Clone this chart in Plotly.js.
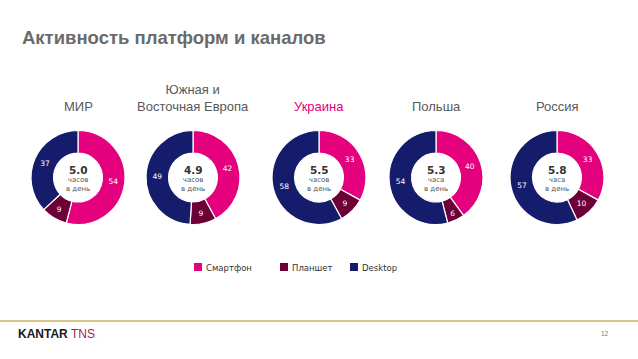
<!DOCTYPE html>
<html>
<head>
<meta charset="utf-8">
<script src="https://cdn.plot.ly/plotly-3.0.1.min.js"></script>
<style>
html,body{margin:0;padding:0;background:#fff;}
#chart{width:638px;height:359px;}
</style>
</head>
<body>
<div id="chart"></div>
<script>
// ---- Data ----
const regions = ["МИР", "Южная и<br>Восточная Европа", "Украина", "Польша", "Россия"];
const platforms = ["Смартфон", "Планшет", "Desktop"];
const smartphone = [54, 42, 33, 40, 33];
const tablet = [9, 9, 9, 6, 10];
const desktop = [37, 49, 58, 54, 57];
const hoursPerDay = ["5.0", "4.9", "5.5", "5.3", "5.8"];
const hourUnit = ["часов", "часов", "часов", "часа", "часа"];

// ---- Layout helpers ----
const W = 638, H = 359;
const centersX = [78, 193, 319, 436, 557];
const centerY = 177.5;
const radius = 47;
const colors = ["#E5007D", "#6E0038", "#161C6C"];
const legendX = [194, 280, 350];

const traces = regions.map((r, i) => {
  const cx = centersX[i];
  return {
    type: "pie",
    values: [smartphone[i], tablet[i], desktop[i]],
    labels: platforms,
    sort: false,
    direction: "clockwise",
    rotation: 0,
    hole: 0.52,
    marker: {colors: colors, line: {color: "#ffffff", width: 1.2}},
    textinfo: "value",
    textposition: "inside",
    insidetextorientation: "horizontal",
    textfont: {family: "DejaVu Sans", size: 7.5, color: "#ffffff"},
    hoverinfo: "label+value",
    domain: {
      x: [(cx - radius) / W, (cx + radius) / W],
      y: [1 - (centerY + radius) / H, 1 - (centerY - radius) / H]
    },
    showlegend: false
  };
});

const annotations = [];
const shapes = [];
regions.forEach((r, i) => {
  const cx = centersX[i] / W;
  annotations.push({
    text: r, x: cx, y: 1 - 116 / H, xref: "paper", yref: "paper",
    xanchor: "center", yanchor: "bottom", showarrow: false,
    font: {family: "Liberation Sans", size: 13, color: i === 2 ? "#E5007D" : "#595959"}
  });
  annotations.push({
    text: "<b>" + hoursPerDay[i] + "</b>", x: cx, y: 1 - 170 / H, xref: "paper", yref: "paper",
    xanchor: "center", yanchor: "middle", showarrow: false,
    font: {family: "DejaVu Sans", size: 10.5, color: "#333333"}
  });
  annotations.push({
    text: hourUnit[i] + "<br>в день", x: cx, y: 1 - 184.5 / H, xref: "paper", yref: "paper",
    xanchor: "center", yanchor: "middle", showarrow: false,
    font: {family: "DejaVu Sans", size: 7, color: "#555555"}
  });
});

// custom legend
platforms.forEach((p, k) => {
  const x0 = legendX[k];
  shapes.push({
    type: "rect", xref: "paper", yref: "paper",
    x0: x0 / W, x1: (x0 + 8) / W, y0: 1 - 271 / H, y1: 1 - 263 / H,
    fillcolor: colors[k], line: {width: 0}
  });
  annotations.push({
    text: p, x: (x0 + 10) / W, y: 1 - 267.5 / H, xref: "paper", yref: "paper",
    xanchor: "left", yanchor: "middle", showarrow: false,
    font: {family: "DejaVu Sans", size: 8.5, color: "#333333"}
  });
});

annotations.push({
  text: "<b>Активность платформ и каналов</b>", x: 20 / W, y: 1 - 37 / H,
  xref: "paper", yref: "paper", xanchor: "left", yanchor: "middle", showarrow: false,
  font: {family: "Liberation Sans", size: 18.5, color: "#6A6A6A"}
});
annotations.push({
  text: "<b>KANTAR</b> <span style='color:#A3195B'>TNS</span><span style='color:#A3195B;font-size:6px'>.</span>",
  x: 16 / W, y: 1 - 334 / H, xref: "paper", yref: "paper",
  xanchor: "left", yanchor: "middle", showarrow: false,
  font: {family: "Liberation Sans", size: 12, color: "#1a1a1a"}
});
annotations.push({
  text: "12", x: 605 / W, y: 1 - 333 / H, xref: "paper", yref: "paper",
  xanchor: "center", yanchor: "middle", showarrow: false,
  font: {family: "Liberation Sans", size: 6.5, color: "#777777"}
});

shapes.push({
  type: "line", xref: "paper", yref: "paper", x0: 0, x1: 1,
  y0: 1 - 321 / H, y1: 1 - 321 / H,
  line: {color: "#CDB063", width: 1.5}
});

const layout = {
  width: W, height: H,
  margin: {l: 0, r: 0, t: 0, b: 0},
  paper_bgcolor: "#ffffff",
  showlegend: false,
  annotations: annotations,
  shapes: shapes
};

Plotly.newPlot("chart", traces, layout, {displayModeBar: false, staticPlot: true});
</script>
</body>
</html>
